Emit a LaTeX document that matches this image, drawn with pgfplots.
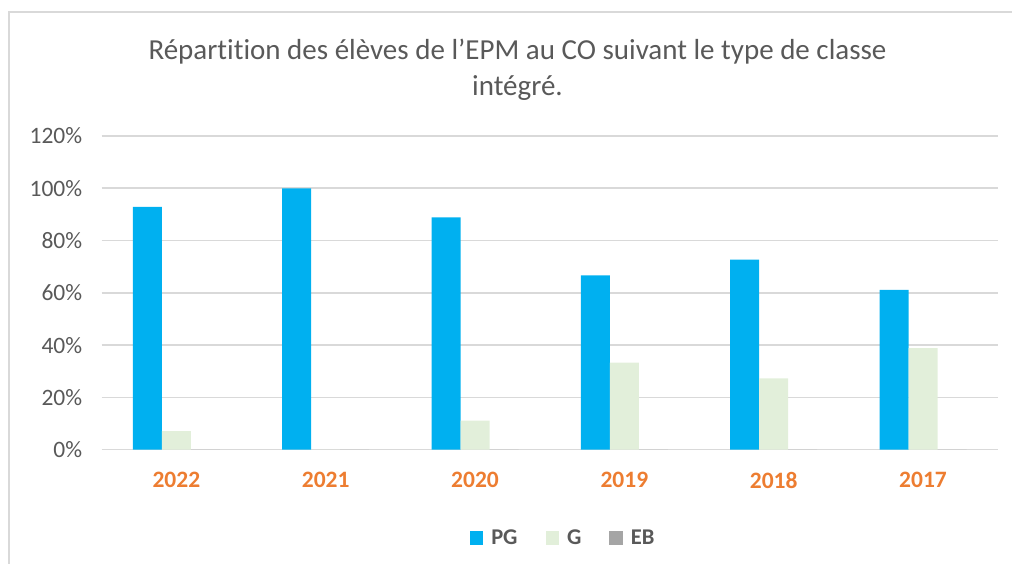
\documentclass[border=0pt]{standalone}
\usepackage{pgfplots}
\pgfplotsset{compat=1.18}
\usepackage{fontspec}
\setmainfont{Carlito}[Ligatures=NoCommon]
\definecolor{pgblue}{HTML}{00B0F0}
\definecolor{ggreen}{HTML}{E2EFDA}
\definecolor{ebgray}{HTML}{A5A5A5}
\definecolor{txtgray}{HTML}{595959}
\definecolor{gridgray}{HTML}{D9D9D9}
\definecolor{yearorange}{HTML}{ED7D31}
\begin{document}
\begin{tikzpicture}[x=1pt,y=1pt]
\path[use as bounding box] (0,0) rectangle (1012,564);
\draw[gridgray, line width=2pt] (9,0) -- (9,552) -- (1012,552);
\node[txtgray, align=center, font=\fontsize{29}{36}\selectfont] at (517.5,494)
  {Répartition des élèves de l\char"27 EPM au CO suivant le type de classe\\intégré.};
\begin{axis}[
  at={(101.7pt,114.3pt)}, anchor=south west,
  scale only axis, width=896pt, height=313.7pt,
  ymin=0, ymax=120, ytick={0,20,...,120},
  xmin=-0.5, xmax=5.5,
  xtick={0,...,5}, xticklabels={2022,2021,2020,2019,2018,2017},
  xticklabel style={font=\fontsize{23.5}{23.5}\selectfont\bfseries, text=yearorange, yshift=-19pt},
  yticklabel={\pgfmathprintnumber{\tick}\%},
  yticklabel style={font=\fontsize{23.5}{23.5}\selectfont, text=txtgray, xshift=-16pt},
  /pgf/number format/assume math mode=true,
  axis line style={draw=none},
  major tick length=0pt,
  ymajorgrids, major grid style={gridgray, line width=1.6pt},
  ybar=0pt, bar width=29pt,
  clip=false,
  legend style={at={(0.515,-0.2815)}, anchor=center, draw=none, fill=none,
    legend columns=3, font=\fontsize{22.5}{22.5}\selectfont\bfseries, text=txtgray,
    /tikz/every odd column/.append style={column sep=6pt},
    /tikz/every even column/.append style={column sep=26pt}},
  legend image code/.code={\fill[#1] (0pt,-6.5pt) rectangle (13.5pt,7pt);},
]
\addplot[fill=pgblue, draw=none] coordinates {(0,92.86) (1,100) (2,88.89) (3,66.67) (4,72.73) (5,61.11)};
\addplot[fill=ggreen, draw=none] coordinates {(0,7.14) (1,0) (2,11.11) (3,33.33) (4,27.27) (5,38.89)};
\addplot[fill=ebgray, draw=none] coordinates {(0,0) (1,0) (2,0) (3,0) (4,0) (5,0)};
\legend{PG,G,EB}
\end{axis}
\end{tikzpicture}
\end{document}
